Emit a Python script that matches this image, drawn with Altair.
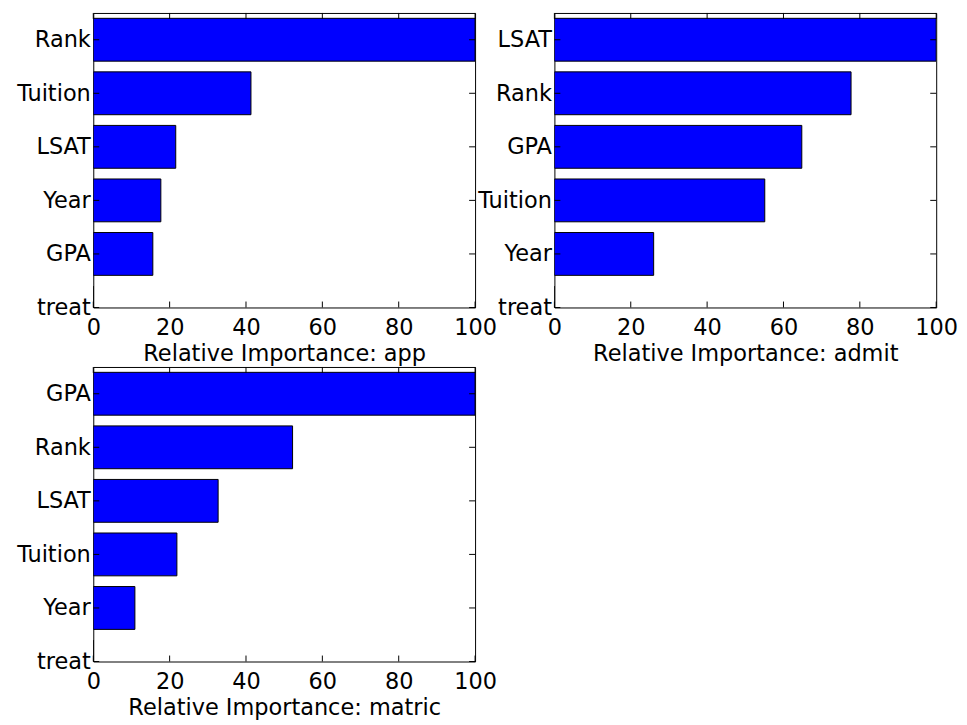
import altair as alt
import pandas as pd

# ---- data ----
names_app = ["treat", "GPA", "Year", "LSAT", "Tuition", "Rank"]
vals_app = [0, 15.6, 17.7, 21.6, 41.3, 100]

names_admit = ["treat", "Year", "Tuition", "GPA", "Rank", "LSAT"]
vals_admit = [0, 26.0, 55.1, 64.8, 77.7, 100]

names_matric = ["treat", "Year", "Tuition", "LSAT", "Rank", "GPA"]
vals_matric = [0, 10.9, 21.9, 32.7, 52.2, 100]

x_ticks = [0, 20, 40, 60, 80, 100]

W, H = 385, 297
FS = 22.6
TL = 6  # inward tick length


def panel(names, vals, title):
    df = pd.DataFrame({"name": names, "val": vals, "pos": list(range(len(names)))})
    xs = alt.Scale(domain=[0, 100], nice=False, zero=False)
    ys = alt.Scale(domain=[0, 5.5], nice=False, zero=False)
    label_expr = "[" + ",".join("'%s'" % n for n in names) + "][datum.value]"

    xaxis = alt.Axis(
        values=x_ticks,
        title=title,
        ticks=False,
        domain=False,
        grid=False,
        labelFlush=False,
        labelOverlap=False,
        labelPadding=9,
        titlePadding=4,
        labelFont="DejaVu Sans",
        titleFont="DejaVu Sans",
        labelFontSize=FS,
        titleFontSize=FS,
        labelColor="black",
        titleColor="black",
        titleFontWeight="normal",
    )
    yaxis = alt.Axis(
        values=list(range(len(names))),
        labelExpr=label_expr,
        title=None,
        ticks=False,
        domain=False,
        grid=False,
        labelFlush=False,
        labelOverlap=False,
        labelPadding=3,
        labelBaseline="middle",
        labelFont="DejaVu Sans",
        labelFontSize=FS,
        labelColor="black",
    )

    bars = (
        alt.Chart(df)
        .transform_calculate(lo="datum.pos - 0.4", hi="datum.pos + 0.4", zero="0")
        .mark_rect(fill="#0000ff", stroke="black", strokeWidth=1, clip=True)
        .encode(
            x=alt.X("zero:Q", scale=xs, axis=xaxis),
            x2="val:Q",
            y=alt.Y("lo:Q", scale=ys, axis=yaxis),
            y2="hi:Q",
        )
    )

    xt = pd.DataFrame({"t": x_ticks})
    yt = pd.DataFrame({"p": list(range(len(names)))})
    xb = alt.Chart(xt).mark_rule(color="black", strokeWidth=1).encode(
        x=alt.X("t:Q", scale=xs, axis=xaxis), y=alt.value(H), y2=alt.value(H - TL)
    )
    xtop = alt.Chart(xt).mark_rule(color="black", strokeWidth=1).encode(
        x=alt.X("t:Q", scale=xs, axis=xaxis), y=alt.value(0), y2=alt.value(TL)
    )
    yl = alt.Chart(yt).mark_rule(color="black", strokeWidth=1).encode(
        y=alt.Y("p:Q", scale=ys, axis=yaxis), x=alt.value(0), x2=alt.value(TL)
    )
    yr = alt.Chart(yt).mark_rule(color="black", strokeWidth=1).encode(
        y=alt.Y("p:Q", scale=ys, axis=yaxis), x=alt.value(W - TL), x2=alt.value(W)
    )
    return alt.layer(bars, xb, xtop, yl, yr).properties(width=W, height=H)


p1 = panel(names_app, vals_app, "Relative Importance: app")
p2 = panel(names_admit, vals_admit, "Relative Importance: admit")
p3 = panel(names_matric, vals_matric, "Relative Importance: matric")

chart = (
    alt.concat(p1, p2, p3, columns=2, spacing={"row": 60, "column": 80}, bounds="flush")
    .properties(
        padding={"left": 8, "top": 1, "right": 0, "bottom": 0},
        background="white",
    )
    .configure_view(stroke="black", strokeWidth=1)
)

chart.save("out.html", embed_options={"renderer": "svg", "actions": False})
